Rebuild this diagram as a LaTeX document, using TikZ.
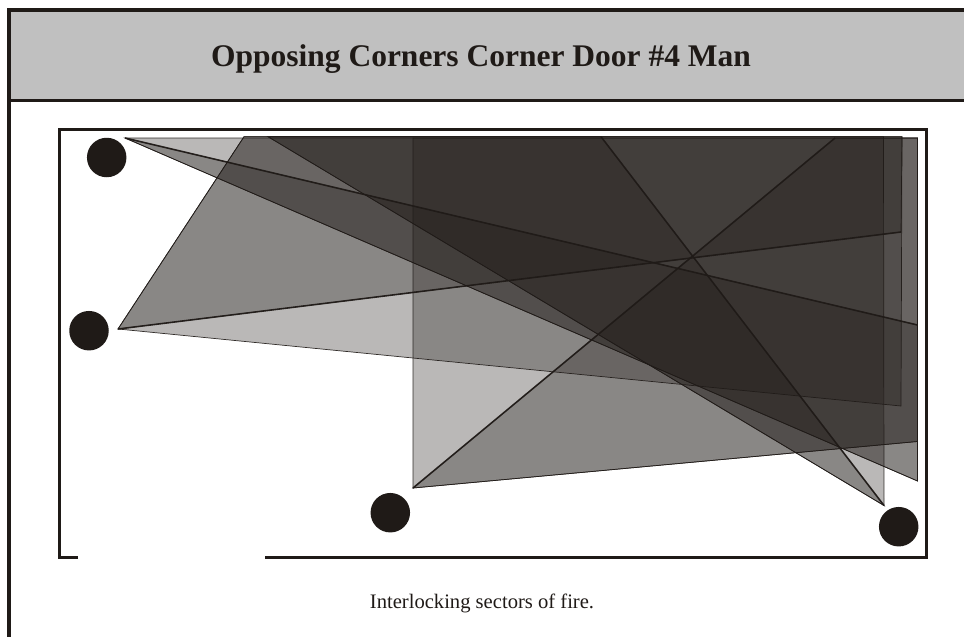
\documentclass[tikz,border=0pt]{standalone}
\usepackage{fontspec}
\setmainfont{Liberation Serif}
\definecolor{inkblack}{HTML}{1F1A17}
\definecolor{headgray}{HTML}{C0C0C0}
\tikzset{
  sector/.style={fill=inkblack,fill opacity=0.31,draw=inkblack,draw opacity=0.9,line width=0.7pt,line join=miter},
  heavy/.style={draw=inkblack,line width=1.6pt,draw opacity=0.9},
  man/.style={circle,fill=inkblack,inner sep=0pt,minimum size=39.5pt},
  wall/.style={draw=inkblack,line width=3pt},
  frameline/.style={draw=inkblack,line width=3.6pt}
}
\begin{document}
\begin{tikzpicture}[x=1pt,y=-1pt]
\useasboundingbox (0,0) rectangle (964,637);
% header band and page frame
\fill[headgray] (9,10) rectangle (964,100);
\draw[frameline] (964,10) -- (9,10) -- (9,637);
\draw[frameline] (9,100.5) -- (964,100.5);
\node[anchor=base,font=\bfseries\fontsize{31.5}{36}\selectfont,text=inkblack] (title) at (481,66) {Opposing Corners Corner Door \#4 Man};
% room, door gap at the bottom
\draw[wall] (78,557.5) -- (59,557.5) -- (59,129.5) -- (926,129.5) -- (926,557.5) -- (265,557.5);
% apex and limits of each man's sectors
\coordinate (A) at (125,138);
\coordinate (AT) at (917.5,138);
\coordinate (AH) at (917.5,325);
\coordinate (AL) at (917.5,481);
\coordinate (B) at (118,329);
\coordinate (BT) at (244,136.7);
\coordinate (BR) at (902,136.7);
\coordinate (BH) at (901,232);
\coordinate (BL) at (901,406);
\coordinate (C) at (413,488);
\coordinate (CT) at (413,138);
\coordinate (CH) at (835,138);
\coordinate (CR) at (917.5,138);
\coordinate (CL) at (917.5,441.5);
\coordinate (D) at (884,505.5);
\coordinate (DT) at (883.5,136.7);
\coordinate (DH) at (601,136.7);
\coordinate (DL) at (268,136.7);
% top left man
\draw[sector] (A) -- (AT) -- (AL) -- cycle;
\draw[sector] (A) -- (AH) -- (AL) -- cycle;
\draw[heavy] (A) -- (AH);
% left man
\draw[sector] (B) -- (BT) -- (BR) -- (BL) -- cycle;
\draw[sector] (B) -- (BT) -- (BR) -- (BH) -- cycle;
\draw[heavy] (B) -- (BH);
% bottom man
\draw[sector] (C) -- (CT) -- (CR) -- (CL) -- cycle;
\draw[sector] (C) -- (CH) -- (CR) -- (CL) -- cycle;
\draw[heavy] (C) -- (CH);
% right man
\draw[sector] (D) -- (DT) -- (DL) -- cycle;
\draw[sector] (D) -- (DH) -- (DL) -- cycle;
\draw[heavy] (D) -- (DH);
% the men
\node[man] (manA) at (106.7,157.5) {};
\node[man] (manB) at (89,330.7) {};
\node[man] (manC) at (390.3,512.7) {};
\node[man] (manD) at (898.7,526.7) {};
\node[anchor=base,font=\fontsize{20.6}{24}\selectfont,text=inkblack] (caption) at (482,608) {Interlocking sectors of fire.};
\end{tikzpicture}
\end{document}
